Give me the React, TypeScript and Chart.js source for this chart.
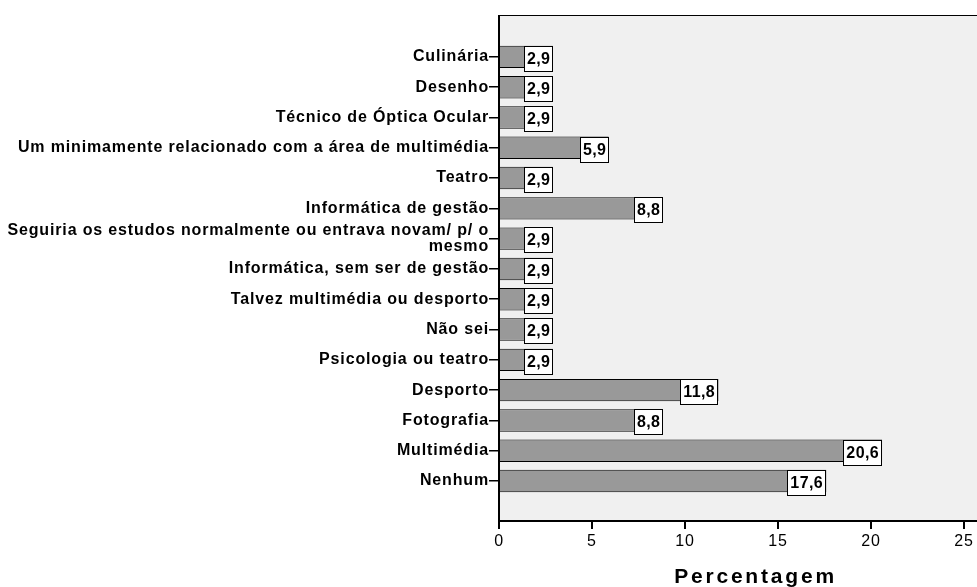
import React, { useEffect, useRef } from "react";
import { Chart, registerables } from "chart.js";

Chart.register(...registerables);

const categories: (string | string[])[] = [
  "Culinária",
  "Desenho",
  "Técnico de Óptica Ocular",
  "Um minimamente relacionado com a área de multimédia",
  "Teatro",
  "Informática de gestão",
  ["Seguiria os estudos normalmente ou entrava novam/ p/ o", "mesmo"],
  "Informática, sem ser de gestão",
  "Talvez multimédia ou desporto",
  "Não sei",
  "Psicologia ou teatro",
  "Desporto",
  "Fotografia",
  "Multimédia",
  "Nenhum",
];

const values = [2.9, 2.9, 2.9, 5.9, 2.9, 8.8, 2.9, 2.9, 2.9, 2.9, 2.9, 11.8, 8.8, 20.6, 17.6];

const xTicks = [0, 5, 10, 15, 20, 25];
const xTitle = "Percentagem";

const FONT = '"Liberation Sans", Arial, sans-serif';

export default function App() {
  const ref = useRef<HTMLCanvasElement | null>(null);

  useEffect(() => {
    const canvas = ref.current;
    if (!canvas) return;

    const custom = {
      id: "custom",
      beforeLayout(chart: any) {
        chart.ctx.letterSpacing = "0.85px";
      },
      beforeDraw(chart: any) {
        const { ctx, chartArea: a } = chart;
        ctx.letterSpacing = "0.85px";
        ctx.save();
        ctx.fillStyle = "#f0f0f0";
        ctx.fillRect(a.left, a.top, a.right - a.left, a.bottom - a.top);
        ctx.restore();
      },
      afterDatasetsDraw(chart: any) {
        const { ctx, chartArea: a } = chart;
        ctx.save();
        ctx.fillStyle = "#000";
        ctx.fillRect(a.left, a.top - 1, a.right - a.left, 1);
        ctx.fillRect(a.left - 1, a.top - 1, 2, a.bottom - a.top + 1);
        ctx.fillRect(a.left - 1, a.bottom - 1, a.right - a.left + 1, 2);

        const meta = chart.getDatasetMeta(0);
        ctx.font = `bold 16px ${FONT}`;
        ctx.letterSpacing = "0.4px";
        meta.data.forEach((bar: any, i: number) => {
          const { x, y, height } = bar.getProps(["x", "y", "height"], true);
          const txt = values[i].toFixed(1).replace(".", ",");
          const w = Math.round(ctx.measureText(txt).width + 6);
          const top = Math.round(y - height / 2);
          const h = Math.round(height + 4);
          const right = Math.round(x);
          ctx.fillStyle = "#fff";
          ctx.fillRect(right - w, top, w, h);
          ctx.strokeStyle = "#000";
          ctx.lineWidth = 1;
          ctx.strokeRect(right - w + 0.5, top + 0.5, w - 1, h - 1);
          ctx.fillStyle = "#000";
          ctx.textAlign = "center";
          ctx.textBaseline = "middle";
          ctx.fillText(txt, right - w / 2 + 0.2, top + h / 2 + 1);
        });
        ctx.restore();
      },
      afterDraw(chart: any) {
        const { ctx } = chart;
        ctx.save();
        ctx.font = `bold 21px ${FONT}`;
        ctx.letterSpacing = "2.8px";
        ctx.fillStyle = "#000";
        ctx.textAlign = "center";
        ctx.textBaseline = "alphabetic";
        ctx.fillText(xTitle, 755.5, 583);
        ctx.restore();
      },
    };

    const chart = new Chart(canvas, {
      type: "bar",
      data: {
        datasets: [
          {
            data: values.map((v, i) => ({ x: v, y: i })),
            backgroundColor: "#999999",
            borderColor: "#000000",
            borderWidth: 1,
            barPercentage: 0.74,
            categoryPercentage: 1,
          },
        ],
      },
      options: {
        indexAxis: "y",
        animation: false,
        responsive: false,
        maintainAspectRatio: false,
        layout: { padding: { top: 16, left: 0, right: 0, bottom: 0 } },
        plugins: {
          legend: { display: false },
          tooltip: { enabled: false },
        },
        scales: {
          x: {
            type: "linear",
            position: "bottom",
            min: 0,
            max: 25.7,
            offset: false,
            afterBuildTicks: (s: any) => {
              s.ticks = xTicks.map((v) => ({ value: v }));
            },
            afterFit: (s: any) => {
              s.height = 66;
            },
            grid: {
              offset: false,
              drawOnChartArea: false,
              drawTicks: true,
              tickLength: 8,
              color: "#000",
              lineWidth: 2,
            },
            border: { display: false },
            ticks: {
              color: "#000",
              font: { family: FONT, size: 16 },
              padding: 3,
              maxRotation: 0,
              autoSkip: false,
              callback: (v: any) => String(v),
            },
          },
          y: {
            type: "linear",
            reverse: true,
            offset: false,
            min: -1.35,
            max: 15.32,
            afterBuildTicks: (s: any) => {
              s.ticks = categories.map((_, i) => ({ value: i }));
            },
            afterFit: (s: any) => {
              s.width = 499;
            },
            grid: {
              offset: false,
              drawOnChartArea: false,
              drawTicks: true,
              tickLength: 10,
              color: "#000",
              lineWidth: 1.5,
            },
            border: { display: false },
            ticks: {
              color: "#000",
              font: { family: FONT, size: 16, weight: "bold", lineHeight: 0.95 },
              padding: 0,
              autoSkip: false,
              callback: (v: any) => categories[v] as any,
            },
          },
        },
      } as any,
      plugins: [custom],
    });

    return () => chart.destroy();
  }, []);

  return (
    <canvas
      ref={ref}
      width={977}
      height={587}
      style={{ position: "fixed", left: 0, top: 0, width: "977px", height: "587px", background: "#fff" }}
    />
  );
}
